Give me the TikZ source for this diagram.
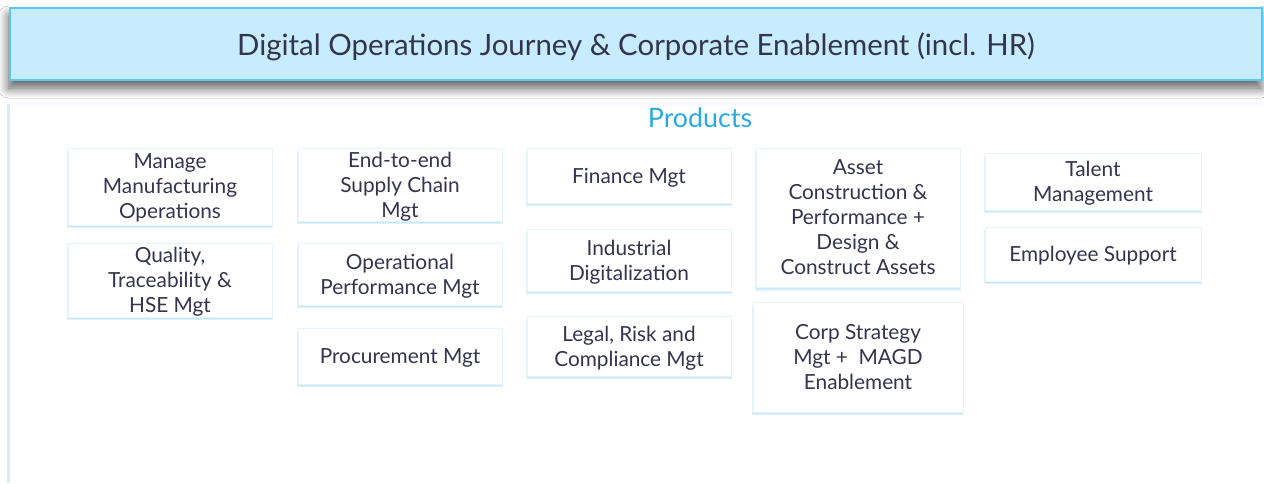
\documentclass[tikz,border=0pt]{standalone}
\usepackage{fontspec}
\setmainfont{Lato}
\usetikzlibrary{shadows, shadows.blur}
\definecolor{headfill}{HTML}{C6ECFD}
\definecolor{headline}{HTML}{5CC6F2}
\definecolor{inktext}{HTML}{34344F}
\definecolor{prodblue}{HTML}{29ABE2}
\definecolor{glowblue}{HTML}{BFE6F5}
\tikzset{
    prodbox/.style={fill=white, draw=glowblue!40, line width=.3pt, align=center,
        inner sep=1pt, text=inktext, text depth=0pt,
        font=\fontsize{10.4}{12.5}\selectfont,
        general shadow={fill=glowblue!50, shadow xshift=0pt, shadow yshift=-1.6pt, shadow scale=1.005},
        drop shadow={fill=glowblue, shadow xshift=0pt, shadow yshift=-.8pt, opacity=.8}},
}

\begin{document}
\begin{tikzpicture}[x=.5pt, y=-.5pt]
    \useasboundingbox (0, 0) rectangle (1264, 483);
    % panel
    \fill[white](0, 0)rectangle(1264, 483);
    \fill[blue!2](10, 102)rectangle(1264, 106);
    \fill[glowblue!70](7, 104)rectangle(10, 483);
    % header
    \node[fill=headfill, draw=headline, line width=1pt, minimum width=626pt, minimum height=36pt,
        text=inktext, text depth=0pt, font=\fontsize{14.7}{17}\selectfont,
        blur shadow={shadow xshift=-.6pt, shadow yshift=-4pt, shadow blur radius=5pt,
            shadow blur steps=12, shadow opacity=65}]
        (head) at (636, 44) {Digital Operations Journey \& Corporate Enablement (incl. HR)};
    \node[text=prodblue, font=\fontsize{13.4}{15}\selectfont] (prods) at (700, 118) {Products};
    % column 1
    \node[prodbox, minimum width=102pt, minimum height=38.5pt] (mmo) at (170, 186.5) {Manage\\Manufacturing\\Operations};
    \node[prodbox, minimum width=102pt, minimum height=37pt] (qth) at (170, 280) {Quality,\\Traceability \&\\HSE Mgt};
    % column 2
    \node[prodbox, minimum width=102pt, minimum height=36.5pt] (e2e) at (400, 184.5) {End-to-end\\Supply Chain\\Mgt};
    \node[prodbox, minimum width=102pt, minimum height=31pt] (opm) at (400, 274) {Operational\\Performance Mgt};
    \node[prodbox, minimum width=102pt, minimum height=28pt] (pcm) at (400, 356) {Procurement Mgt};
    % column 3
    \node[prodbox, minimum width=102pt, minimum height=27.5pt] (fin) at (629, 175.5) {Finance Mgt};
    \node[prodbox, minimum width=102pt, minimum height=31pt] (ind) at (629, 260) {Industrial\\Digitalization};
    \node[prodbox, minimum width=102pt, minimum height=30pt] (lrc) at (629, 346) {Legal, Risk and\\Compliance Mgt};
    % column 4
    \node[prodbox, minimum width=102pt, minimum height=69.5pt] (acp) at (858, 217.5)
        {Asset\\Construction \&\\Performance +\\Design \&\\Construct Assets};
    \node[prodbox, minimum width=105pt, minimum height=55pt] (csm) at (858, 357) {Corp Strategy\\Mgt +\ \ MAGD\\Enablement};
    % column 5
    \node[prodbox, minimum width=108pt, minimum height=28.5pt] (tal) at (1093, 181.5) {Talent\\Management};
    \node[prodbox, minimum width=108pt, minimum height=27pt] (emp) at (1093, 254) {Employee Support};
\end{tikzpicture}
\end{document}
